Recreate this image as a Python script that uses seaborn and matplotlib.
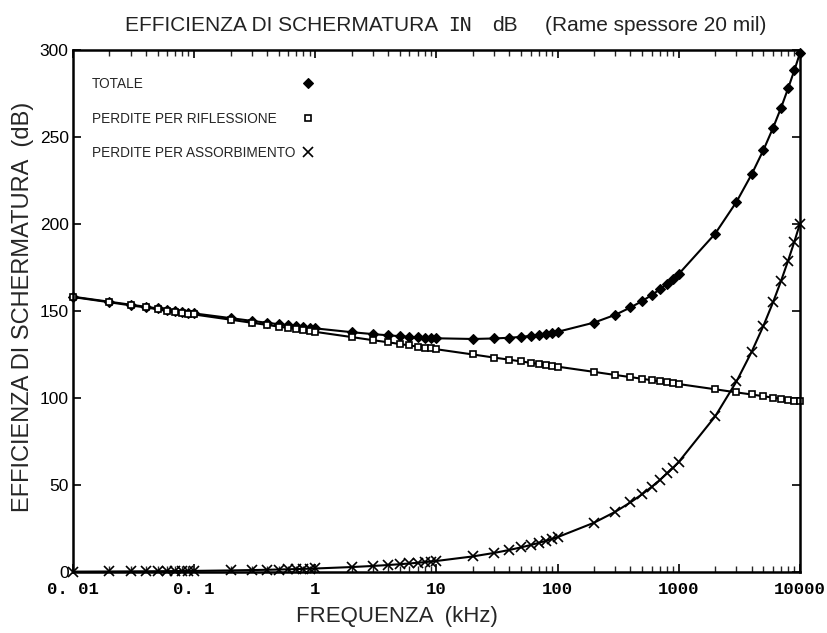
import matplotlib
matplotlib.use("Agg")
import matplotlib.pyplot as plt
from matplotlib.lines import Line2D
from matplotlib.ticker import LogLocator, NullFormatter
import seaborn as sns
import pandas as pd

# ---------------- data ----------------
freq_khz = [0.01, 0.02, 0.03, 0.04, 0.05, 0.06, 0.07, 0.08, 0.09,
            0.1, 0.2, 0.3, 0.4, 0.5, 0.6, 0.7, 0.8, 0.9,
            1, 2, 3, 4, 5, 6, 7, 8, 9,
            10, 20, 30, 40, 50, 60, 70, 80, 90,
            100, 200, 300, 400, 500, 600, 700, 800, 900,
            1000, 2000, 3000, 4000, 5000, 6000, 7000, 8000, 9000,
            10000]

totale = [158.2, 155.3, 153.6, 152.4, 151.5, 150.7, 150.1, 149.5, 149.1,
          148.6, 145.9, 144.3, 143.2, 142.4, 141.8, 141.2, 140.8, 140.4,
          140.0, 137.8, 136.7, 136.0, 135.5, 135.1, 134.8, 134.7, 134.5,
          134.3, 133.9, 134.2, 134.6, 135.1, 135.7, 136.2, 136.9, 137.5,
          138.0, 143.3, 147.8, 152.0, 155.7, 159.2, 162.4, 165.6, 168.5,
          171.2, 194.4, 212.7, 228.5, 242.4, 255.1, 266.8, 277.9, 288.2,
          298.0]

riflessione = [158.0, 155.0, 153.2, 152.0, 151.0, 150.2, 149.5, 149.0, 148.5,
               148.0, 145.0, 143.2, 142.0, 141.0, 140.2, 139.5, 139.0, 138.5,
               138.0, 135.0, 133.2, 132.0, 131.0, 130.2, 129.5, 129.0, 128.5,
               128.0, 125.0, 123.2, 122.0, 121.0, 120.2, 119.5, 119.0, 118.5,
               118.0, 115.0, 113.2, 112.0, 111.0, 110.2, 109.5, 109.0, 108.5,
               108.0, 105.0, 103.2, 102.0, 101.0, 100.2, 99.5, 99.0, 98.5,
               98.0]

assorbimento = [0.2, 0.28, 0.35, 0.4, 0.45, 0.49, 0.53, 0.57, 0.6,
                0.63, 0.89, 1.1, 1.26, 1.41, 1.55, 1.67, 1.79, 1.9,
                2.0, 2.83, 3.46, 4.0, 4.47, 4.9, 5.29, 5.66, 6.0,
                6.32, 8.94, 10.95, 12.65, 14.14, 15.49, 16.73, 17.89, 18.97,
                20.0, 28.3, 34.6, 40.0, 44.7, 49.0, 52.9, 56.6, 60.0,
                63.2, 89.4, 109.5, 126.5, 141.4, 154.9, 167.3, 178.9, 189.7,
                200.0]

series_labels = ["TOTALE", "PERDITE PER RIFLESSIONE", "PERDITE PER ASSORBIMENTO"]
xtick_values = [0.01, 0.1, 1, 10, 100, 1000, 10000]
xtick_labels = ["0. 01", "0. 1", "1", "10", "100", "1000", "10000"]
ytick_values = [0, 50, 100, 150, 200, 250, 300]

title_parts = ["EFFICIENZA DI SCHERMATURA", "IN", "dB", "(Rame spessore 20 mil)"]
xlabel_text = "FREQUENZA  (kHz)"
ylabel_text = "EFFICIENZA DI SCHERMATURA  (dB)"

# ---------------- plot ----------------
sns.set_style("ticks")
plt.rcParams["font.family"] = ["Liberation Sans", "DejaVu Sans"]

fig = plt.figure(figsize=(8.28, 6.33), dpi=100)
ax = fig.add_axes([0.088, 0.0964, 0.878, 0.8247])

df = pd.DataFrame({"f": freq_khz, "tot": totale, "rif": riflessione, "ass": assorbimento})

marker_styles = [
    dict(marker="D", markersize=5, markerfacecolor="black",
         markeredgecolor="black", markeredgewidth=0.8),
    dict(marker="s", markersize=5, markerfacecolor="white",
         markeredgecolor="black", markeredgewidth=1.2),
    dict(marker="x", markersize=7, markerfacecolor="black",
         markeredgecolor="black", markeredgewidth=1.2),
]
for ycol, st in zip(["tot", "rif", "ass"], marker_styles):
    sns.lineplot(data=df, x="f", y=ycol, ax=ax, color="black", linewidth=1.5,
                 clip_on=False, **st)

ax.set_xscale("log")
ax.set_xlim(freq_khz[0], freq_khz[-1])
ax.set_ylim(ytick_values[0], ytick_values[-1])

ax.set_xticks(xtick_values)
ax.set_xticklabels(xtick_labels, family="Liberation Mono", fontweight="bold", fontsize=12.5)
ax.xaxis.set_minor_locator(LogLocator(base=10, subs=range(2, 10)))
ax.xaxis.set_minor_formatter(NullFormatter())
ax.set_yticks(ytick_values)
ax.set_yticklabels([str(v) for v in ytick_values], fontsize=12.5)

ax.tick_params(axis="x", which="major", direction="in", length=6, width=1.2,
               top=True, bottom=True, colors="black", pad=7)
ax.tick_params(axis="y", which="major", direction="in", length=6, width=1.2,
               left=True, right=True, colors="black", pad=3)
ax.tick_params(axis="x", which="minor", direction="in", length=4, width=1.0,
               top=True, bottom=True)
for sp in ax.spines.values():
    sp.set_visible(True)
    sp.set_linewidth(1.8)
    sp.set_color("black")

ax.set_xlabel(xlabel_text, fontsize=16)
ax.xaxis.set_label_coords(0.446, -0.066)
ax.set_ylabel(ylabel_text, fontsize=17)
ax.yaxis.set_label_coords(-0.054, 0.508)

# title in pieces (different typefaces in the original)
title_x = [125, 448, 492, 545]
title_fonts = ["Liberation Sans", "DejaVu Sans Mono", "Liberation Sans", "Liberation Sans"]
title_sizes = [15, 14, 15, 15]
for txt, xp, fam, sz in zip(title_parts, title_x, title_fonts, title_sizes):
    fig.text(xp / 828, 1 - 31 / 633, txt, ha="left", va="baseline",
             family=fam, fontsize=sz, color="#222222")

# legend: labels column + markers column
blank = [Line2D([], [], linestyle="none", marker=None) for _ in series_labels]
leg1 = ax.legend(blank, series_labels, loc="upper left", bbox_to_anchor=(0.026, 0.948),
                 frameon=False, handlelength=0, handletextpad=0, borderpad=0,
                 borderaxespad=0, labelspacing=1.5, prop={"size": 9.8})
ax.add_artist(leg1)
mk = [Line2D([], [], linestyle="none", color="black", **s) for s in marker_styles]
ax.legend(mk, ["", "", ""], loc="upper center", bbox_to_anchor=(0.323, 0.948),
          frameon=False, handlelength=1.0, handletextpad=0, borderpad=0,
          borderaxespad=0, labelspacing=1.5, prop={"size": 9.8})

fig.savefig("out.png", dpi=100)
